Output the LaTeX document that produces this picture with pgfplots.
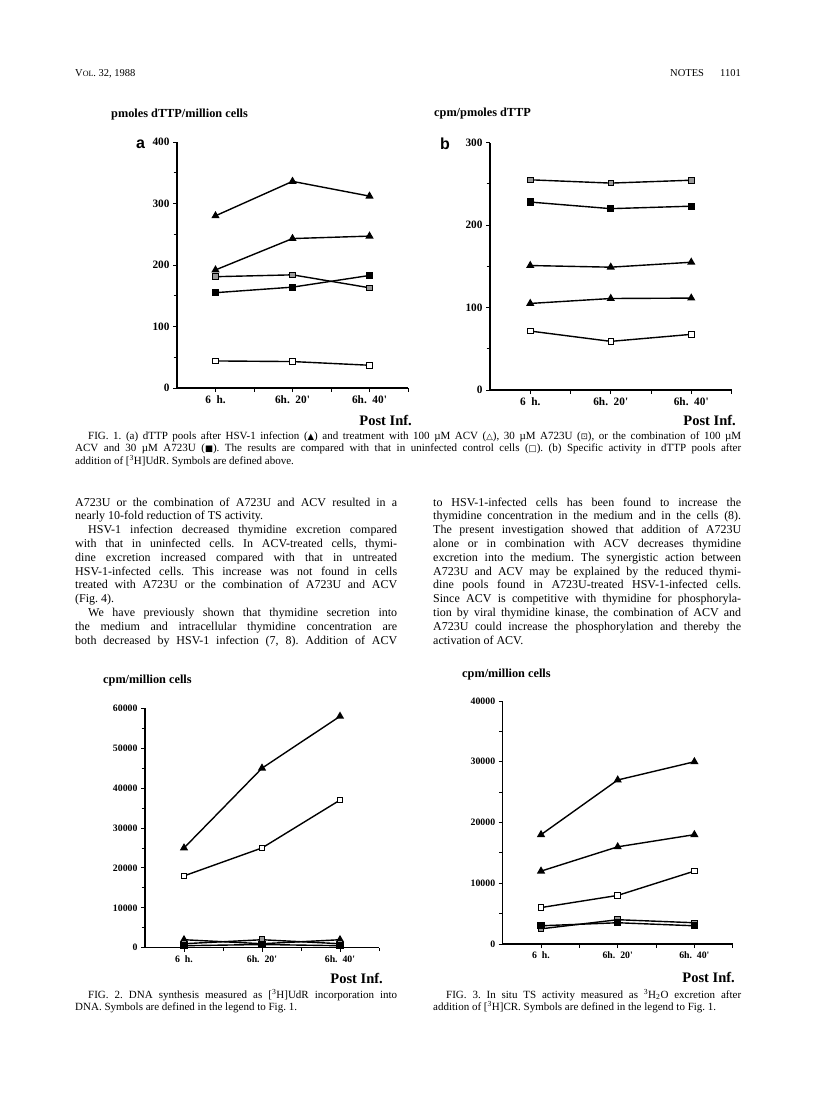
\documentclass[border=0pt]{standalone}
\usepackage{fontspec}
\setmainfont{Liberation Serif}
\setsansfont{Liberation Sans}
\newfontfamily\sym{DejaVu Sans}
\usepackage{pgfplots}
\pgfplotsset{compat=1.18}
\frenchspacing
\newcommand{\tickfontA}{\fontsize{11.3}{11.3}\selectfont\bfseries}
\newcommand{\tickfontB}{\fontsize{9.8}{9.8}\selectfont\bfseries}
\newcommand{\titlefont}{\fontsize{12.3}{12.3}\selectfont\bfseries}
\newcommand{\pifont}{\fontsize{14.5}{14.5}\selectfont\bfseries}
\newcommand{\bodyfont}{\fontsize{12}{13.8}\selectfont}
\newcommand{\capfont}{\fontsize{11}{12.5}\selectfont}
\newcommand{\jl}[2]{\makebox[#1pt][s]{#2}}
\newcommand{\sy}[1]{{\sym\fontsize{8.5}{8.5}\selectfont #1}}
\newcommand{\q}{\textquotesingle}
\pgfplotsset{
  pagefig/.style={
    scale only axis, anchor=south west, clip=false,
    axis lines=left, axis line style={-, line width=1.1pt},
    tick align=outside, xmin=-0.5, xmax=2.5, ymin=0,
    xtick={0,1,2}, minor xtick={0.5,1.5,2.5},
    xticklabels={6~~h.,6h.~~20\q,6h.~~40\q},
    minor y tick num=1, scaled y ticks=false,
    major tick length=4pt, minor tick length=3.5pt,
    every tick/.style={line width=0.9pt, black},
    /pgf/number format/assume math mode=true,
    /pgf/number format/1000 sep={},
    every axis plot/.append style={line width=1.4pt, black},
  },
  hsv/.style={mark=triangle*, mark size=3.4pt, mark options={solid, fill=black}},
  acv/.style={mark=triangle*, mark size=3.4pt, mark options={solid, fill=black}},
  a723/.style={mark=square*, mark size=2.8pt, mark options={solid, fill=black!40, line width=0.9pt}},
  comb/.style={mark=square*, mark size=2.9pt, mark options={solid, fill=black}},
  ctrl/.style={mark=square*, mark size=2.8pt, mark options={solid, fill=white, line width=0.9pt}},
}
\begin{document}
\begin{tikzpicture}[x=1pt,y=1pt]
\fill[white] (0,0) rectangle (816,-1093);
\path[use as bounding box] (0,0) rectangle (816,-1093);

% ---------- header ----------
\node[anchor=base west, inner sep=0] at (75,-76) {\fontsize{10.5}{10.5}\selectfont V{\fontsize{8}{8}\selectfont OL}. 32, 1988};
\node[anchor=base west, inner sep=0] at (670,-76) {\fontsize{10.5}{10.5}\selectfont NOTES};
\node[anchor=base east, inner sep=0] at (741,-76) {\fontsize{10.5}{10.5}\selectfont 1101};

% ---------- Fig 1a ----------
\node[anchor=base west, inner sep=0] at (111,-117) {\titlefont pmoles dTTP/million cells};
\node[anchor=base west, inner sep=0] at (136,-148) {\sffamily\bfseries\fontsize{16}{16}\selectfont a};
\begin{axis}[pagefig, at={(177pt,-388pt)}, width=231pt, height=246pt,
  ymax=400, ytick={0,100,200,300,400},
  ticklabel style={font=\tickfontA}]
\addplot[hsv]  coordinates {(0,280) (1,336) (2,312)};
\addplot[acv]  coordinates {(0,192) (1,243) (2,247)};
\addplot[a723] coordinates {(0,181) (1,184) (2,163)};
\addplot[comb] coordinates {(0,155) (1,164) (2,183)};
\addplot[ctrl] coordinates {(0,44) (1,43) (2,37)};
\end{axis}
\node[anchor=base east, inner sep=0] at (412,-425) {\pifont Post Inf.};

% ---------- Fig 1b ----------
\node[anchor=base west, inner sep=0] at (434,-116) {\titlefont cpm/pmoles dTTP};
\node[anchor=base west, inner sep=0] at (440,-149) {\sffamily\bfseries\fontsize{16}{16}\selectfont b};
\begin{axis}[pagefig, at={(490pt,-390pt)}, width=241.5pt, height=247.3pt,
  ymax=300, ytick={0,100,200,300},
  ticklabel style={font=\tickfontA}]
\addplot[a723] coordinates {(0,255) (1,251) (2,254.5)};
\addplot[comb] coordinates {(0,228) (1,220) (2,223)};
\addplot[hsv]  coordinates {(0,151) (1,149) (2,155)};
\addplot[acv]  coordinates {(0,105) (1,111) (2,111.5)};
\addplot[ctrl] coordinates {(0,71.5) (1,59) (2,67.5)};
\end{axis}
\node[anchor=base east, inner sep=0] at (736,-425) {\pifont Post Inf.};

% ---------- Fig 1 caption ----------
\node[anchor=base west, inner sep=0] at (88,-439) {\capfont\jl{653}{FIG. 1. (a) dTTP pools after HSV-1 infection (\sy{▲}) and treatment with 100 µM ACV (\sy{△}), 30 µM A723U (\sy{⊡}), or the combination of 100 µM}};
\node[anchor=base west, inner sep=0] at (75,-451.5) {\capfont\jl{666}{ACV and 30 µM A723U (\sy{■}). The results are compared with that in uninfected control cells (\sy{□}). (b) Specific activity in dTTP pools after}};
\node[anchor=base west, inner sep=0] at (75,-464) {\capfont addition of [\textsuperscript{3}H]UdR. Symbols are defined above.};

% ---------- body text, left column ----------
\begin{scope}[every node/.style={anchor=base west, inner sep=0, font=\bodyfont}]
\node at (75,-506.0) {\jl{322}{A723U or the combination of A723U and ACV resulted in a}};
\node at (75,-519.8) {nearly 10-fold reduction of TS activity.};
\node at (88,-533.6) {\jl{309}{HSV-1 infection decreased thymidine excretion compared}};
\node at (75,-547.4) {\jl{322}{with that in uninfected cells. In ACV-treated cells, thymi-}};
\node at (75,-561.2) {\jl{322}{dine excretion increased compared with that in untreated}};
\node at (75,-575.0) {\jl{322}{HSV-1-infected cells. This increase was not found in cells}};
\node at (75,-588.8) {\jl{322}{treated with A723U or the combination of A723U and ACV}};
\node at (75,-602.6) {(Fig. 4).};
\node at (88,-616.4) {\jl{309}{We have previously shown that thymidine secretion into}};
\node at (75,-630.2) {\jl{322}{the medium and intracellular thymidine concentration are}};
\node at (75,-644.0) {\jl{322}{both decreased by HSV-1 infection (7, 8). Addition of ACV}};
% right column
\node at (433,-506.0) {\jl{308}{to HSV-1-infected cells has been found to increase the}};
\node at (433,-519.8) {\jl{308}{thymidine concentration in the medium and in the cells (8).}};
\node at (433,-533.6) {\jl{308}{The present investigation showed that addition of A723U}};
\node at (433,-547.4) {\jl{308}{alone or in combination with ACV decreases thymidine}};
\node at (433,-561.2) {\jl{308}{excretion into the medium. The synergistic action between}};
\node at (433,-575.0) {\jl{308}{A723U and ACV may be explained by the reduced thymi-}};
\node at (433,-588.8) {\jl{308}{dine pools found in A723U-treated HSV-1-infected cells.}};
\node at (433,-602.6) {\jl{308}{Since ACV is competitive with thymidine for phosphoryla-}};
\node at (433,-616.4) {\jl{308}{tion by viral thymidine kinase, the combination of ACV and}};
\node at (433,-630.2) {\jl{308}{A723U could increase the phosphorylation and thereby the}};
\node at (433,-644.0) {activation of ACV.};
\end{scope}

% ---------- Fig 2 ----------
\node[anchor=base west, inner sep=0] at (103,-683) {\titlefont cpm/million cells};
\begin{axis}[pagefig, at={(145pt,-947.7pt)}, width=234pt, height=239.4pt,
  ymax=60000, ytick={0,10000,20000,30000,40000,50000,60000},
  ticklabel style={font=\tickfontB}]
\addplot[hsv]  coordinates {(0,25000) (1,45000) (2,58000)};
\addplot[ctrl] coordinates {(0,18000) (1,25000) (2,37000)};
\addplot[acv]  coordinates {(0,2000) (1,1000) (2,2000)};
\addplot[a723] coordinates {(0,1000) (1,2000) (2,1000)};
\addplot[comb] coordinates {(0,500) (1,800) (2,500)};
\end{axis}
\node[anchor=base east, inner sep=0] at (383,-983) {\pifont Post Inf.};
\node[anchor=base west, inner sep=0] at (88,-998) {\capfont\jl{309}{FIG. 2. DNA synthesis measured as [\textsuperscript{3}H]UdR incorporation into}};
\node[anchor=base west, inner sep=0] at (75,-1010) {\capfont DNA. Symbols are defined in the legend to Fig. 1.};

% ---------- Fig 3 ----------
\node[anchor=base west, inner sep=0] at (462,-677) {\titlefont cpm/million cells};
\begin{axis}[pagefig, at={(502.7pt,-944pt)}, width=230pt, height=243pt,
  ymax=40000, ytick={0,10000,20000,30000,40000},
  ticklabel style={font=\tickfontB}]
\addplot[hsv]  coordinates {(0,18000) (1,27000) (2,30000)};
\addplot[acv]  coordinates {(0,12000) (1,16000) (2,18000)};
\addplot[ctrl] coordinates {(0,6000) (1,8000) (2,12000)};
\addplot[a723] coordinates {(0,2500) (1,4000) (2,3500)};
\addplot[comb] coordinates {(0,3000) (1,3500) (2,3000)};
\end{axis}
\node[anchor=base east, inner sep=0] at (735,-982) {\pifont Post Inf.};
\node[anchor=base west, inner sep=0] at (446,-998) {\capfont\jl{295}{FIG. 3. In situ TS activity measured as \textsuperscript{3}H\textsubscript{2}O excretion after}};
\node[anchor=base west, inner sep=0] at (433,-1010) {\capfont addition of [\textsuperscript{3}H]CR. Symbols are defined in the legend to Fig. 1.};
\end{tikzpicture}
\end{document}
